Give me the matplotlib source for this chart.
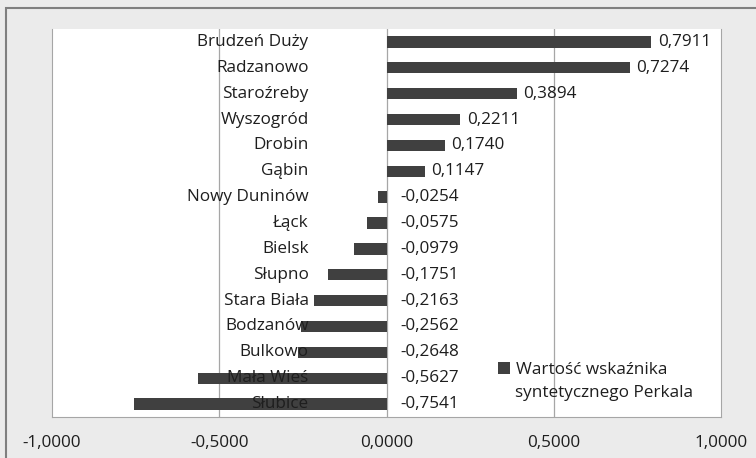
import matplotlib.pyplot as plt
from matplotlib.patches import Rectangle

plt.rcParams['font.family'] = ['Open Sans', 'DejaVu Sans']

gminy = ["Brudzeń Duży", "Radzanowo", "Staroźreby", "Wyszogród", "Drobin", "Gąbin",
         "Nowy Duninów", "Łąck", "Bielsk", "Słupno", "Stara Biała", "Bodzanów",
         "Bulkowo", "Mała Wieś", "Słubice"]
wartosci = [0.7911, 0.7274, 0.3894, 0.2211, 0.1740, 0.1147, -0.0254, -0.0575,
            -0.0979, -0.1751, -0.2163, -0.2562, -0.2648, -0.5627, -0.7541]
ticks = [-1.0, -0.5, 0.0, 0.5, 1.0]

W, H = 756, 458
fig = plt.figure(figsize=(W / 100, H / 100), dpi=100)
fig.patch.set_facecolor("#ebebeb")
# outer frame
fig.patches.append(Rectangle((6 / W, -0.1), 1.2, 1.1 - 8 / H, transform=fig.transFigure,
                             fill=False, edgecolor="#7f7f7f", linewidth=1.5))

ax = fig.add_axes([52 / W, 1 - 417 / H, (721 - 52) / W, (417 - 29) / H])
ax.set_facecolor("white")
bar_color = "#404040"
txt_color = "#1e1e1e"
y = list(range(len(gminy)))
ax.barh(y, wartosci, height=0.44, color=bar_color, zorder=3, label="Wartość wskaźnika")
ax.set_xlim(-1.0, 1.0)
ax.set_ylim(len(gminy) - 0.5, -0.5)

for t in ticks[1:-1]:
    ax.axvline(t, color="#a6a6a6", linewidth=0.9, zorder=1)

fs = 12.3
for yi, (name, v) in enumerate(zip(gminy, wartosci)):
    ax.text(-0.233, yi, name, ha="right", va="center", fontsize=fs, color=txt_color, zorder=4)
    lab = f"{v:.4f}".replace(".", ",")
    xpos = v + 0.02 if v > 0 else 0.04
    ax.text(xpos, yi, lab, ha="left", va="center", fontsize=fs, color=txt_color, zorder=4)

ax.set_yticks([])
ax.set_xticks(ticks)
ax.set_xticklabels([f"{t:.4f}".replace(".", ",") for t in ticks], fontsize=fs, color=txt_color)
ax.tick_params(axis="x", length=0, pad=13)
for side in ["left", "right", "bottom"]:
    ax.spines[side].set_color("#a6a6a6")
ax.spines["top"].set_visible(False)

ax.legend(loc="center left", bbox_to_anchor=(0.657, 0.121), frameon=False, fontsize=fs,
          handlelength=0.7, handleheight=0.7, handletextpad=0.35, labelcolor=txt_color,
          borderpad=0.4, borderaxespad=0)
ax.text(0.692, 0.062, "syntetycznego Perkala", transform=ax.transAxes, ha="left", va="center",
        fontsize=fs, color=txt_color, zorder=4)

fig.savefig("out.png", dpi=100, facecolor=fig.get_facecolor())
